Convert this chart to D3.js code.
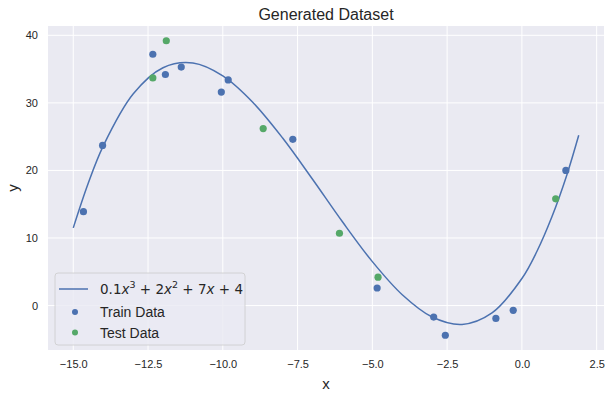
<!DOCTYPE html>
<html>
  <head>
    <meta charset="utf-8">
    <title>Generated Dataset</title>
    <script src="https://d3js.org/d3.v7.min.js"></script>
    <style>
      body { margin: 0; background: #fff; }
      text { font-family: "Liberation Sans", Arial, sans-serif; fill: #262626; }
      .grid line { stroke: #fff; stroke-width: 1; }
      .tick text { font-size: 11px; }
    </style>
  </head>
  <body>
    <div id="chart"></div>
    <script>

      var width = 612,
        height = 396,
        margin = {top: 26, right: 8, bottom: 46, left: 48};

      // curve samples for 0.1x^3 + 2x^2 + 7x + 4
      var curveX = [-15, -14.5, -14, -13, -12, -11, -10, -9, -8, -7, -6, -5, -4, -3, -2, -1, 0, 0.5, 1, 1.5, 1.9];
      var curveY = [11.5, 18.1, 23.6, 31.3, 35.2, 35.9, 34.0, 30.1, 24.8, 18.7, 12.4, 6.5, 1.6, -1.7, -2.8, -1.1, 4.0, 8.0, 13.1, 19.3, 25.2];

      var trainX = [-14.66, -14.02, -12.34, -11.92, -11.39, -10.05, -9.82, -7.66, -4.84, -2.95, -2.56, -0.87, -0.29, 1.47];
      var trainY = [13.9, 23.7, 37.2, 34.2, 35.3, 31.6, 33.4, 24.6, 2.6, -1.7, -4.4, -1.9, -0.7, 20.0];

      var testX = [-12.34, -11.89, -8.65, -6.10, -4.81, 1.13];
      var testY = [33.7, 39.2, 26.2, 10.7, 4.2, 15.8];

      var xTicks = [-15, -12.5, -10, -7.5, -5, -2.5, 0, 2.5];
      var yTicks = [0, 10, 20, 30, 40];

      var blue = "#4C72B0", green = "#55A868";

      var svg = d3.select("#chart")
        .append("svg")
          .attr("width", width)
          .attr("height", height);

      var w = width - margin.left - margin.right,
        h = height - margin.top - margin.bottom;

      function padded(ext) {
        var p = (ext[1] - ext[0]) * 0.05;
        return [ext[0] - p, ext[1] + p];
      }

      var x = d3.scaleLinear()
        .domain(padded(d3.extent(curveX.concat(trainX, testX))))
        .range([0, w]);

      var y = d3.scaleLinear()
        .domain(padded(d3.extent(curveY.concat(trainY, testY))))
        .range([h, 0]);

      var g = svg.append("g")
        .attr("transform", "translate(" + margin.left + "," + margin.top + ")");

      g.append("rect")
        .attr("width", w)
        .attr("height", h)
        .attr("fill", "#EAEAF2");

      // grid
      g.append("g").attr("class", "grid")
        .selectAll("line").data(xTicks)
        .enter().append("line")
          .attr("x1", (d) => x(d)).attr("x2", (d) => x(d))
          .attr("y1", 0).attr("y2", h);

      g.append("g").attr("class", "grid")
        .selectAll("line").data(yTicks)
        .enter().append("line")
          .attr("y1", (d) => y(d)).attr("y2", (d) => y(d))
          .attr("x1", 0).attr("x2", w);

      // axes (labels only, seaborn darkgrid has no spines)
      var xAxis = g.append("g")
        .attr("transform", "translate(0," + h + ")")
        .call(d3.axisBottom(x).tickValues(xTicks).tickSize(0).tickPadding(10)
          .tickFormat((d) => d3.format(".1f")(d).replace("-", "\u2212")));
      xAxis.select(".domain").remove();

      var yAxis = g.append("g")
        .call(d3.axisLeft(y).tickValues(yTicks).tickSize(0).tickPadding(10));
      yAxis.select(".domain").remove();

      svg.selectAll(".tick text").attr("fill", "#262626");

      // fitted curve
      var line = d3.line()
        .x((d, i) => x(curveX[i]))
        .y((d, i) => y(d))
        .curve(d3.curveCatmullRom);

      g.append("path")
        .datum(curveY)
        .attr("d", line)
        .attr("fill", "none")
        .attr("stroke", blue)
        .attr("stroke-width", 1.5);

      g.append("g").selectAll("circle")
        .data(trainX)
        .enter().append("circle")
          .attr("cx", (d) => x(d))
          .attr("cy", (d, i) => y(trainY[i]))
          .attr("r", 3.6)
          .attr("fill", blue);

      g.append("g").selectAll("circle")
        .data(testX)
        .enter().append("circle")
          .attr("cx", (d) => x(d))
          .attr("cy", (d, i) => y(testY[i]))
          .attr("r", 3.6)
          .attr("fill", green);

      // titles
      svg.append("text")
        .attr("x", margin.left + w / 2)
        .attr("y", 20)
        .attr("text-anchor", "middle")
        .style("font-size", "16px")
        .text("Generated Dataset");

      svg.append("text")
        .attr("x", margin.left + w / 2)
        .attr("y", 389)
        .attr("text-anchor", "middle")
        .style("font-size", "15px")
        .text("x");

      svg.append("text")
        .attr("transform", "translate(18," + (margin.top + h / 2) + ") rotate(-90)")
        .attr("text-anchor", "middle")
        .style("font-size", "15px")
        .text("y");

      // legend
      var lg = svg.append("g").attr("transform", "translate(55,273)");
      lg.append("rect")
        .attr("width", 190)
        .attr("height", 72)
        .attr("rx", 3)
        .attr("fill", "#EAEAF2")
        .attr("fill-opacity", 0.8)
        .attr("stroke", "#cccccc")
        .attr("stroke-width", 0.8);

      lg.append("line")
        .attr("x1", 4).attr("x2", 33)
        .attr("y1", 16).attr("y2", 16)
        .attr("stroke", blue)
        .attr("stroke-width", 1.5);

      var eq = lg.append("text")
        .attr("x", 45).attr("y", 21)
        .style("font-family", "'DejaVu Sans', sans-serif")
        .style("font-size", "13.5px");
      eq.append("tspan").text("0.1");
      eq.append("tspan").style("font-style", "italic").text("x");
      eq.append("tspan").attr("dy", -6).style("font-size", "9.5px").text("3");
      eq.append("tspan").attr("dy", 6).text(" + 2");
      eq.append("tspan").style("font-style", "italic").text("x");
      eq.append("tspan").attr("dy", -6).style("font-size", "9.5px").text("2");
      eq.append("tspan").attr("dy", 6).text(" + 7");
      eq.append("tspan").style("font-style", "italic").text("x");
      eq.append("tspan").text(" + 4");

      var items = [["Train Data", blue], ["Test Data", green]];
      items.forEach((it, i) => {
        lg.append("circle")
          .attr("cx", 20).attr("cy", 39 + i * 20.5)
          .attr("r", 3)
          .attr("fill", it[1]);
        lg.append("text")
          .attr("x", 45).attr("y", 44 + i * 20.5)
          .style("font-size", "14px")
          .text(it[0]);
      });

    </script>
  </body>
</html>
